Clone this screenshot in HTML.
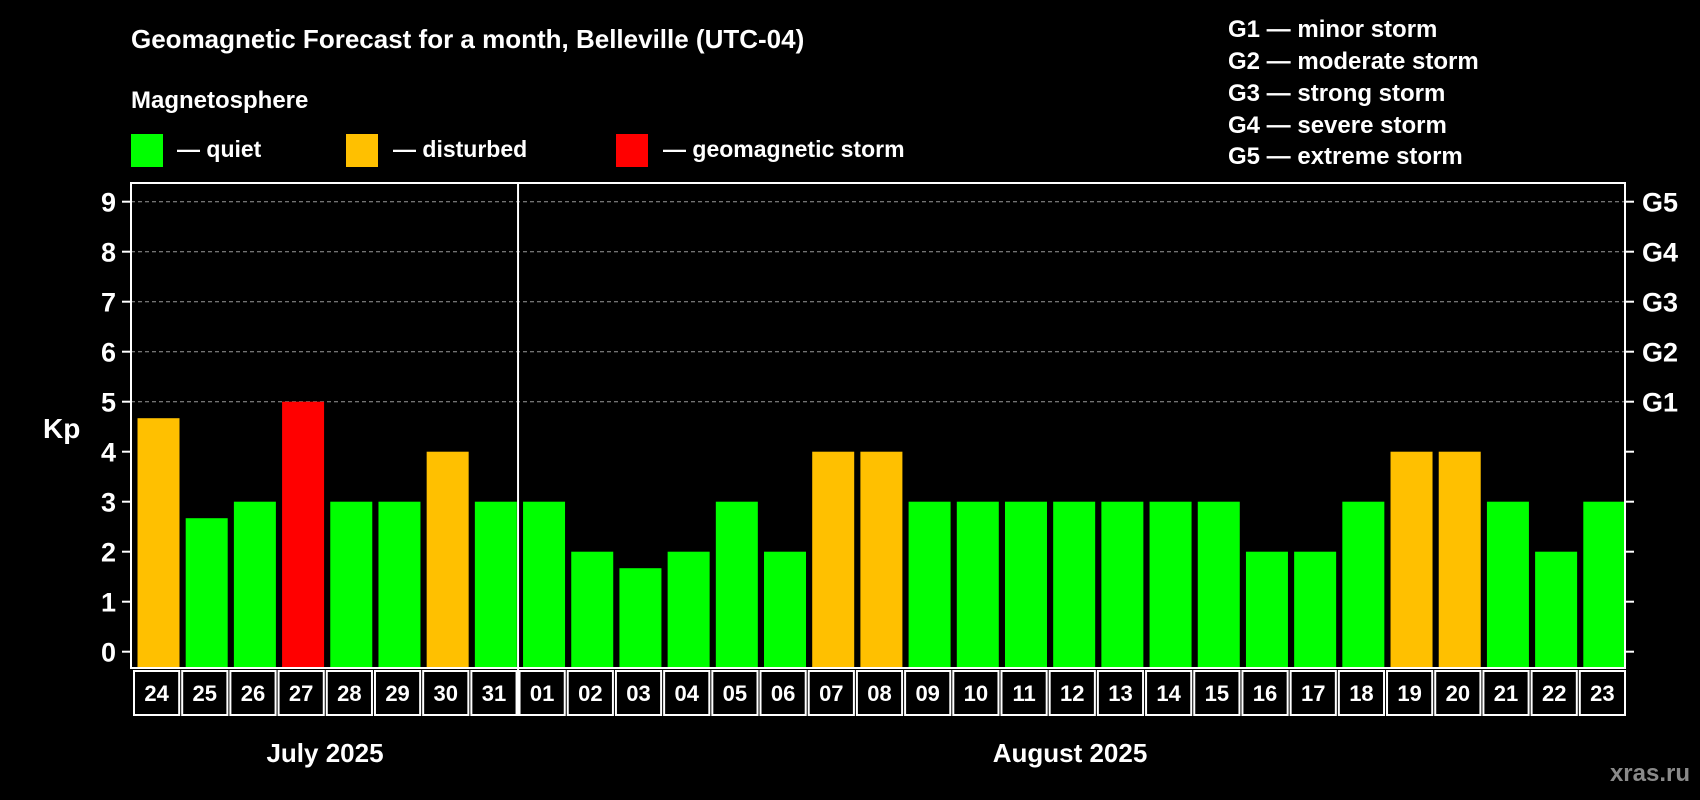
<!DOCTYPE html>
<html><head><meta charset="utf-8"><style>
html,body{margin:0;padding:0;background:#000;}
svg{display:block;font-family:"Liberation Sans",Arial,sans-serif;font-weight:bold;}
</style></head><body>
<svg id="chart" width="1700" height="800" viewBox="0 0 1700 800" xmlns="http://www.w3.org/2000/svg">
<rect width="1700" height="800" fill="#000"/>
<text x="131" y="48" fill="#fff" font-size="26">Geomagnetic Forecast for a month, Belleville (UTC-04)</text>
<text x="131" y="108" fill="#fff" font-size="24">Magnetosphere</text>
<g>
<rect x="131" y="134" width="32" height="33" fill="#00ff00"/>
<text x="177" y="157" fill="#fff" font-size="23">— quiet</text></g>
<g>
<rect x="346" y="134" width="32" height="33" fill="#ffc000"/>
<text x="393" y="157" fill="#fff" font-size="23">— disturbed</text></g>
<g>
<rect x="616" y="134" width="32" height="33" fill="#ff0000"/>
<text x="663" y="157" fill="#fff" font-size="23">— geomagnetic storm</text></g>
<g fill="#fff" font-size="24">
<text x="1228" y="37">G1 — minor storm</text>
<text x="1228" y="69">G2 — moderate storm</text>
<text x="1228" y="101">G3 — strong storm</text>
<text x="1228" y="133">G4 — severe storm</text>
<text x="1228" y="164">G5 — extreme storm</text>
</g>
<text x="43" y="438" fill="#fff" font-size="28">Kp</text>
<text x="325" y="762" fill="#fff" font-size="26" text-anchor="middle">July 2025</text>
<text x="1070" y="762" fill="#fff" font-size="26" text-anchor="middle">August 2025</text>
<text x="1690" y="781" fill="#8a8a8a" font-size="24" text-anchor="end">xras.ru</text>
<g id="plot"></g>
</svg>
<script>
const days = ["24","25","26","27","28","29","30","31","01","02","03","04","05","06","07","08","09","10","11","12","13","14","15","16","17","18","19","20","21","22","23"];
const kpValues = [4.67,2.67,3,5,3,3,4,3,3,2,1.67,2,3,2,4,4,3,3,3,3,3,3,3,2,2,3,4,4,3,2,3];
const yTicks = [0,1,2,3,4,5,6,7,8,9];
const gLabels = ["G1","G2","G3","G4","G5"];
const gLevels = [5,6,7,8,9];
const monthSplit = 8;

const NS = "http://www.w3.org/2000/svg";
const L = 131, R = 1625, T = 183, B = 668;
const pitch = (R - L) / days.length;
function y(v){ return 651.7 - v * 50; }
function x(i){ return L + i * pitch; }
function color(v){ return v >= 5 ? "#ff0000" : v >= 4 ? "#ffc000" : "#00ff00"; }
const g = document.getElementById("plot");
function mk(tag, attrs, parent){ const e = document.createElementNS(NS, tag); for (const k in attrs) e.setAttribute(k, attrs[k]); (parent||g).appendChild(e); return e; }

yTicks.forEach(t => {
  if (t >= 5) {
    const gl = mk("line", {x1:L, x2:R, y1:y(t), y2:y(t), stroke:"#999", "stroke-width":1, "stroke-dasharray":"4,3"});
    
    
  }
  const tk = mk("line", {x1:L-9, x2:L, y1:y(t), y2:y(t), stroke:"#fff", "stroke-width":2});
  
  
  const tr = mk("line", {x1:R, x2:R+9, y1:y(t), y2:y(t), stroke:"#fff", "stroke-width":2});
  
  
  const lb = mk("text", {x:116, y:y(t)+10, fill:"#fff", "font-size":27, "text-anchor":"end"});
  lb.textContent = t;
  
  
});
gLabels.forEach((s, k) => {
  const t = mk("text", {x:1642, y:y(gLevels[k])+10, fill:"#fff", "font-size":27});
  t.textContent = s;
  
  
});
kpValues.forEach((v, i) => {
  const b = mk("rect", {x:x(i)+6.5, y:y(v), width:42, height:B - y(v), fill:color(v)});
  
  
  const box = mk("rect", {x:x(i)+3, y:671, width:pitch-3, height:44, fill:"none", stroke:"#fff", "stroke-width":2});
  
  
  const lt = mk("text", {x:x(i)+pitch/2+1.5, y:701, fill:"#fff", "font-size":22, "text-anchor":"middle"});
  lt.textContent = days[i];
  
  
});
const fr = mk("rect", {x:L, y:T, width:R-L, height:B-T, fill:"none", stroke:"#fff", "stroke-width":2});


const sep = mk("line", {x1:x(monthSplit)+1.5, x2:x(monthSplit)+1.5, y1:T, y2:716, stroke:"#fff", "stroke-width":2});


</script>
</body></html>
